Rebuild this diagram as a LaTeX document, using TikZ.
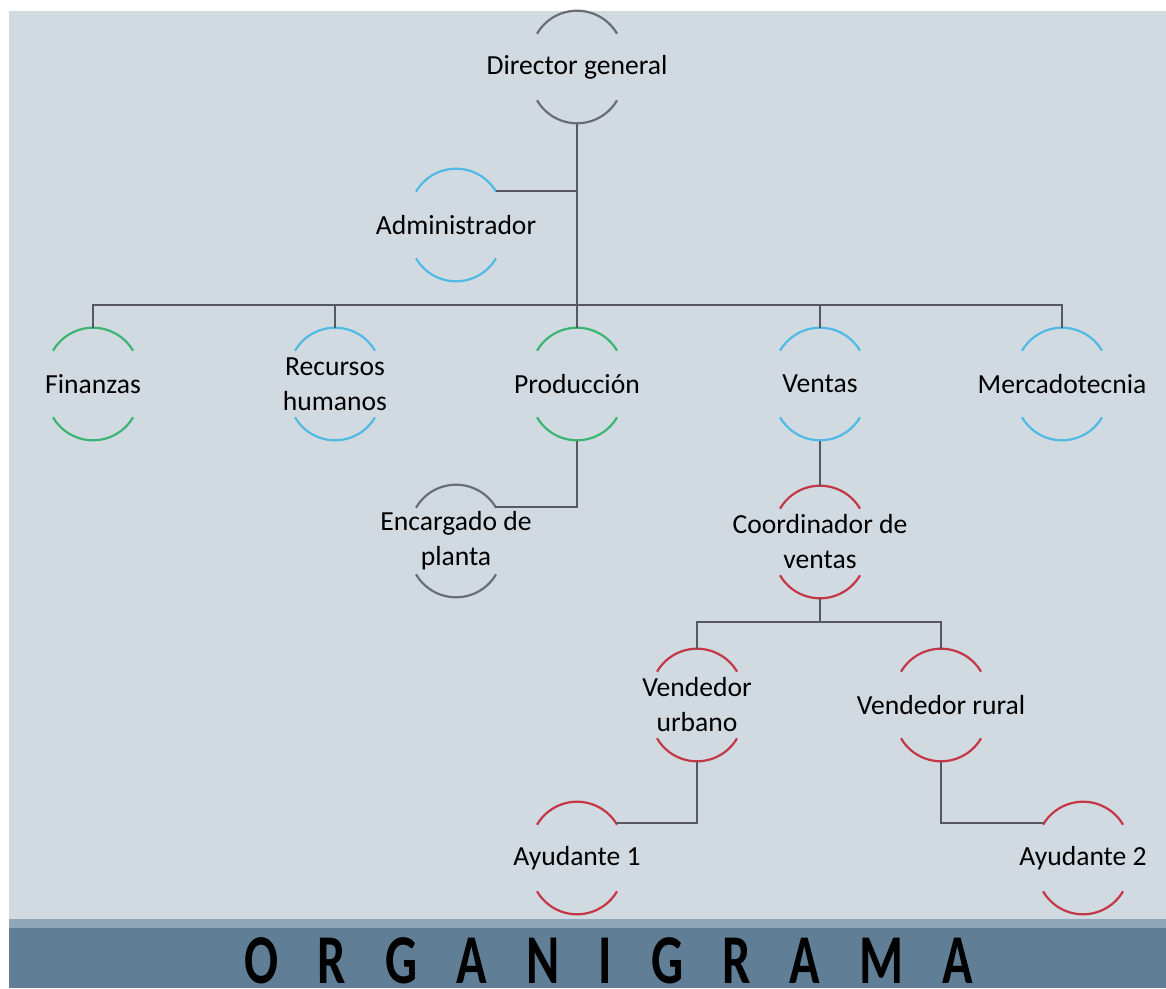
\documentclass[tikz,border=0pt]{standalone}
\usepackage{fontspec}
\usepackage{graphicx}
\setmainfont{Carlito}
\usetikzlibrary{calc}
\definecolor{bgc}{RGB}{210,218,225}
\definecolor{bandl}{RGB}{143,167,186}
\definecolor{bandd}{RGB}{96,127,150}
\definecolor{cgreen}{RGB}{60,180,115}
\definecolor{cblue}{RGB}{80,185,228}
\definecolor{cred}{RGB}{195,55,70}
\definecolor{cgray}{RGB}{105,110,118}
\definecolor{cline}{RGB}{85,90,98}
\newcommand\orgarcs[2]{%
  \draw[arcline,draw=#2] ($(#1.center)+(-40,33.3)$) arc[start angle=149.8,end angle=30.2,radius=46.3pt];
  \draw[arcline,draw=#2] ($(#1.center)+(-40,-33.3)$) arc[start angle=210.2,end angle=329.8,radius=46.3pt];}
\newcommand\gsp{\hspace{54.3pt}}
\begin{document}
\begin{tikzpicture}[x=1pt,y=1pt,
  org/.style={rectangle,minimum height=112.6pt,inner sep=0pt,align=center,
    font=\fontsize{27.6}{35}\selectfont},
  conn/.style={draw=cline,line width=2pt},
  arcline/.style={line width=2.2pt}]
\useasboundingbox (0,0) rectangle (1166,-988);
\fill[white] (0,0) rectangle (1166,-988);
\fill[bgc] (9,-11) rectangle (1166,-919);
\fill[bandl] (9,-919) rectangle (1166,-928);
\fill[bandd] (9,-928) rectangle (1166,-988);

% nodes
\node[org] (dir)   at (577,-67)  {Director general};
\node[org] (adm)   at (456,-225) {Administrador};
\node[org] (fin)   at (93,-384)  {Finanzas};
\node[org] (rh)    at (335,-384) {Recursos\\humanos};
\node[org] (prod)  at (577,-384) {Producción};
\node[org] (ven)   at (820,-384) {Ventas};
\node[org] (mer)   at (1062,-384) {Mercadotecnia};
\node[org] (enc)   at (456,-541) {Encargado de\\planta};
\node[org] (coord) at (820,-542) {Coordinador de\\ventas};
\node[org] (vu)    at (697,-705) {Vendedor\\urbano};
\node[org] (vr)    at (941,-705) {Vendedor rural};
\node[org] (ay1)   at (577,-858) {Ayudante 1};
\node[org] (ay2)   at (1083,-858) {Ayudante 2};

% arcs
\orgarcs{dir}{cgray}
\orgarcs{adm}{cblue}
\orgarcs{fin}{cgreen}
\orgarcs{rh}{cblue}
\orgarcs{prod}{cgreen}
\orgarcs{ven}{cblue}
\orgarcs{mer}{cblue}
\orgarcs{enc}{cgray}
\orgarcs{coord}{cred}
\orgarcs{vu}{cred}
\orgarcs{vr}{cred}
\orgarcs{ay1}{cred}
\orgarcs{ay2}{cred}

% connectors
\coordinate (bus) at (577,-305);
\coordinate (bus2) at (820,-622);
\draw[conn] (dir.south) -- (bus);
\draw[conn] ($(adm.center)+(40,34)$) -| (dir.south);
\draw[conn] (fin.north) |- (bus);
\draw[conn] (rh.north) |- (bus);
\draw[conn] (prod.north) -- (bus);
\draw[conn] (ven.north) |- (bus);
\draw[conn] (mer.north) |- (bus);
\draw[conn] (prod.south) |- ($(enc.center)+(39,34)$);
\draw[conn] (ven.south) -- (coord.north);
\draw[conn] (coord.south) -- (bus2);
\draw[conn] (vu.north) |- (bus2);
\draw[conn] (vr.north) |- (bus2);
\draw[conn] (vu.south) |- ($(ay1.center)+(39,35)$);
\draw[conn] (vr.south) |- ($(ay2.center)+(-39,35)$);

% title
\node[anchor=base,inner sep=0pt,font=\fontsize{70}{76}\selectfont\bfseries] (title) at (609,-983)
  {\scalebox{0.72}[1]{O\gsp R\gsp G\gsp A\gsp N\gsp I\gsp G\gsp R\gsp A\gsp M\gsp A}};
\end{tikzpicture}
\end{document}
